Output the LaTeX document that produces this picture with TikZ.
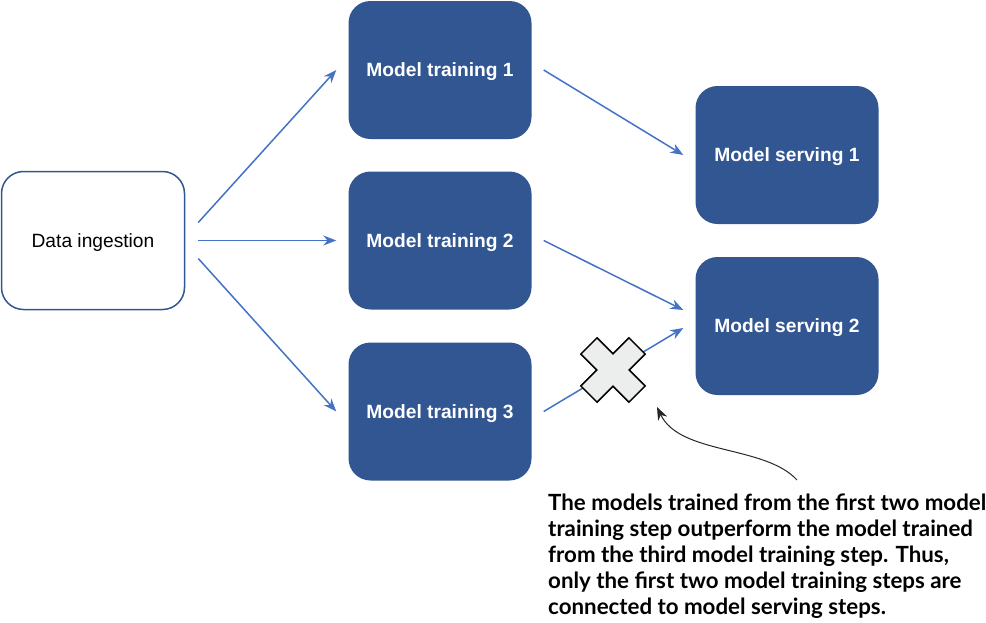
\documentclass[tikz,border=0pt]{standalone}
\usepackage{fontspec}
\setmainfont{Liberation Sans}
\newfontfamily\notefont{Lato}
\definecolor{BoxBlue}{RGB}{50,86,145}
\definecolor{FlowBlue}{RGB}{68,114,196}
\definecolor{CrossGrey}{RGB}{236,237,237}
\usetikzlibrary{arrows.meta,positioning,calc}

\begin{document}
\begin{tikzpicture}[x=1pt,y=-1pt,
  stepbox/.style={rectangle,rounded corners=22pt,minimum width=183pt,minimum height=138pt,
    inner sep=0pt,text depth=0pt,font=\fontsize{19.2}{22}\selectfont},
  trainbox/.style={stepbox,fill=BoxBlue,text=white,font=\fontsize{19.2}{22}\selectfont\bfseries},
  flow/.style={FlowBlue,line width=1.5pt,-{Stealth[length=13pt,width=10pt]}},
  pointer/.style={black!85,line width=1pt,-{Stealth[length=13pt,width=10pt]}},
  crossmark/.style={draw=black,fill=CrossGrey,line width=1.5pt,line join=miter},
  note/.style={align=left,inner sep=0pt,font=\notefont\bfseries\fontsize{22.3}{26}\selectfont}]
\useasboundingbox (0,0) rectangle (986,622);
% ingestion
\node[stepbox,draw=BoxBlue,line width=1.5pt,fill=white] (ingest) at (93,240.5) {Data ingestion};
% training steps
\node[trainbox] (train1) at (440,70) {Model training 1};
\node[trainbox] (train2) at (440,240.5) {Model training 2};
\node[trainbox] (train3) at (440,411.5) {Model training 3};
% serving steps
\node[trainbox] (serve1) at (787,155) {Model serving 1};
\node[trainbox] (serve2) at (787,326) {Model serving 2};
% connectors
\draw[flow] ([xshift=13pt,yshift=18pt]ingest.east) -- ([xshift=-12pt]train1.west);
\draw[flow] ([xshift=13pt]ingest.east) -- ([xshift=-12pt]train2.west);
\draw[flow] ([xshift=13pt,yshift=-18pt]ingest.east) -- ([xshift=-12pt]train3.west);
\draw[flow] ([xshift=12pt]train1.east) -- ([xshift=-12pt]serve1.west);
\draw[flow] ([xshift=12pt]train2.east) -- ([xshift=-12pt,yshift=16pt]serve2.west);
\draw[flow] ([xshift=12pt]train3.east) -- ([xshift=-12pt,yshift=-2pt]serve2.west);
% rejected link
\coordinate (cut) at (613,370);
\draw[crossmark,shift={(cut)},rotate=45] (-11.5,-34) -- (11.5,-34) -- (11.5,-11.5) -- (34,-11.5)
  -- (34,11.5) -- (11.5,11.5) -- (11.5,34) -- (-11.5,34) -- (-11.5,11.5) -- (-34,11.5)
  -- (-34,-11.5) -- (-11.5,-11.5) -- cycle;
% annotation
\node[note,anchor=north west] (note) at (548,494) {The models trained from the first two model\\
training step outperform the model trained\\
from the third model training step. Thus,\\
only the first two model training steps are\\
connected to model serving steps.};
\coordinate (tail) at (797,480);
\coordinate (tip) at (657,407);
\draw[pointer] (tail) .. controls (765,445) and (680,455) .. (tip);
\end{tikzpicture}
\end{document}
